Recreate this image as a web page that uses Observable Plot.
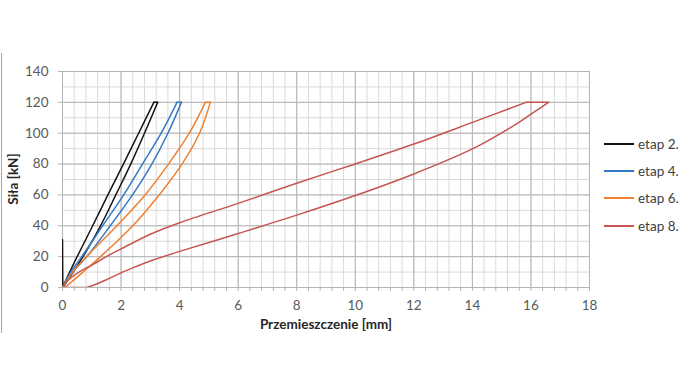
<!DOCTYPE html>
<html><head><meta charset="utf-8">
<script src="https://cdn.jsdelivr.net/npm/d3@7"></script>
<script src="https://cdn.jsdelivr.net/npm/@observablehq/plot@0.6"></script>
<style>
body{margin:0;background:#fff;}
#wrap{position:relative;width:695px;height:391px;font-family:Lato,"Open Sans",sans-serif;}
#border{position:absolute;left:1px;top:53px;width:1px;height:280px;background:#a6a6a6;}
#legend{position:absolute;left:604px;top:130px;}
.item{display:flex;align-items:center;height:27.3px;font-size:13.5px;color:#404040;}
.sw{width:30px;height:2px;margin-right:4px;}
#xt{position:absolute;left:62px;width:528px;top:316px;text-align:center;font-weight:bold;font-size:13.5px;color:#262626;}
#yt{position:absolute;left:13px;top:179px;transform:translate(-50%,-50%) rotate(-90deg);white-space:nowrap;font-weight:bold;font-size:13.5px;color:#262626;}
#chart{position:absolute;left:0;top:0;}
</style></head><body>
<div id="wrap"><div id="chart"></div><div id="border"></div><div id="legend"></div>
<div id="xt">Przemieszczenie [mm]</div><div id="yt">Siła [kN]</div></div>
<script>
const seriesNames = ["etap 2.", "etap 4.", "etap 6.", "etap 8."];
const seriesColors = ["#141414", "#3479c6", "#f07f2e", "#c65551"];

const xTicks = [0, 2, 4, 6, 8, 10, 12, 14, 16, 18];
const yTicks = [0, 20, 40, 60, 80, 100, 120, 140];

const etap2X = [0, 0.01, 0.3, 0.7, 1.3, 1.82, 2.33, 2.8, 3.25, 3.12, 2.6, 2.08, 1.55, 1.03, 0.5, 0.22, 0];
const etap2Y = [31, 0, 8, 20, 40, 60, 80, 100, 120, 120, 100, 80, 60, 40, 20, 9, 0];

const etap4X = [0.03, 0.35, 0.83, 1.63, 2.39, 3.05, 3.6, 4.06, 3.91, 3.37, 2.73, 2.09, 1.37, 0.66, 0.28, 0];
const etap4Y = [0, 10, 20, 40, 60, 80, 100, 120, 120, 100, 80, 60, 40, 20, 10, 0];

const etap6X = [0.08, 0.7, 1.3, 2.4, 3.3, 4.08, 4.68, 5.05, 4.88, 4.33, 3.62, 2.82, 1.86, 0.82, 0.35, 0];
const etap6Y = [0, 10, 20, 40, 60, 80, 100, 120, 120, 100, 80, 60, 40, 20, 10, 0];

const etap8X = [0, 0.83, 1.1, 1.5, 2, 2.5, 3, 4, 6, 8, 10, 12, 14, 15.4, 16, 16.43, 16.6, 15.83, 14, 12, 10, 8, 6, 4, 3, 2, 1.5, 1.0, 0.6, 0.3, 0.1, 0];
const etap8Y = [0, 0, 1.8, 5, 9.5, 13.5, 17.2, 23.4, 35, 46.9, 59.6, 73.6, 89.8, 104.8, 112.4, 117.8, 120, 120, 107, 93, 80.1, 67.6, 54.5, 42, 34.5, 25, 20, 14.5, 10.5, 6.5, 3, 0];

const seriesX = [etap2X, etap4X, etap6X, etap8X];
const seriesY = [etap2Y, etap4Y, etap6Y, etap8Y];

// split each recorded path at its corners (interior points at 0 or 120 kN) so smoothing keeps them sharp
const table = [];
seriesNames.forEach((s, i) => {
  const xs = seriesX[i], ys = seriesY[i];
  let seg = 0;
  xs.forEach((x, j) => {
    table.push({series: s, seg: `${s}-${seg}`, x, y: ys[j]});
    const corner = j > 0 && j < xs.length - 1 && (ys[j] === 120 || ys[j] === 0);
    if (corner) {
      seg++;
      table.push({series: s, seg: `${s}-${seg}`, x, y: ys[j]});
    }
  });
});

const xMinor = d3.range(0, 46).map(i => +(i * 0.4).toFixed(1));
const yMinor = d3.range(0, 15).map(i => i * 10);

const chart = Plot.plot({
  width: 695, height: 391,
  marginLeft: 62, marginRight: 106, marginTop: 71, marginBottom: 104,
  x: {domain: [0, 18]},
  y: {domain: [0, 140]},
  color: {domain: seriesNames, range: seriesColors},
  style: {fontFamily: "Lato, 'Open Sans', sans-serif", fontSize: "13.5px", color: "#595959", background: "transparent"},
  marks: [
    Plot.ruleX(xMinor, {stroke: "#dadada", strokeWidth: 1}),
    Plot.ruleY(yMinor, {stroke: "#dadada", strokeWidth: 1}),
    Plot.ruleX(xTicks, {stroke: "#b4b4b4", strokeWidth: 1}),
    Plot.ruleY(yTicks, {stroke: "#b4b4b4", strokeWidth: 1}),
    Plot.axisX({ticks: xMinor, tickSize: 4, tickFormat: () => "", stroke: "#b4b4b4", label: null}),
    Plot.axisX({ticks: xTicks, tickSize: 0, tickPadding: 13, label: null, fill: "#595959"}),
    Plot.axisY({ticks: yTicks, tickSize: 4, tickPadding: 10, stroke: "#b4b4b4", label: null, fill: "#595959"}),
    Plot.line(table, {x: "x", y: "y", z: "seg", stroke: "series", strokeWidth: 1.5, curve: "catmull-rom", clip: true})
  ]
});
document.getElementById("chart").appendChild(chart);

const lg = document.getElementById("legend");
seriesNames.forEach((s, i) => {
  const d = document.createElement("div");
  d.className = "item";
  d.innerHTML = `<span class="sw" style="background:${seriesColors[i]}"></span>${s}`;
  lg.appendChild(d);
});
</script>
</body></html>
